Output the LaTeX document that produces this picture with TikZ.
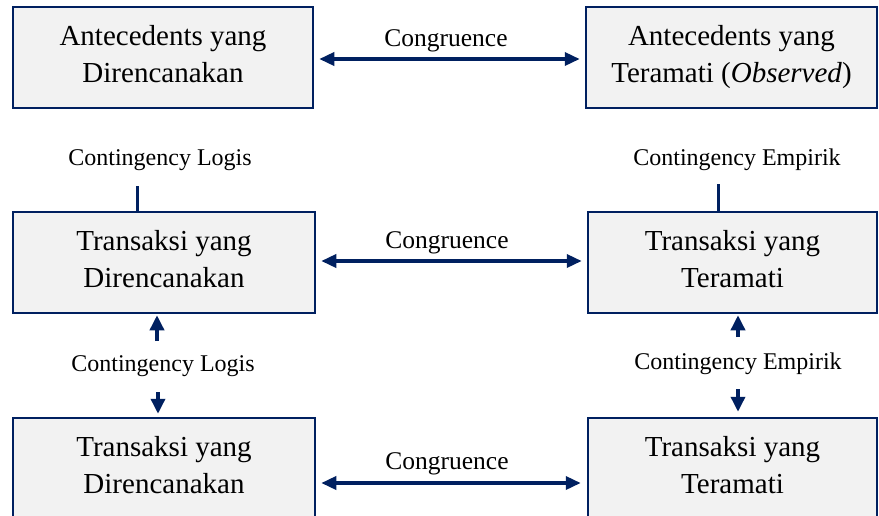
\documentclass[tikz,border=0pt]{standalone}
\usepackage{fontspec}
\setmainfont{Liberation Serif}
\usetikzlibrary{arrows.meta}
\definecolor{navy}{HTML}{002060}
\definecolor{boxfill}{HTML}{F2F2F2}
\tikzset{
  box/.style={draw=navy, line width=2.5pt, fill=boxfill, inner sep=0pt,
    minimum height=101pt, align=center, text height=59pt, text depth=10pt,
    font=\fontsize{29}{37}\selectfont},
  arr/.style={draw=navy, line width=3.5pt, -{Triangle[length=15pt,width=14pt]}},
  dbl/.style={draw=navy, line width=3.5pt, {Triangle[length=15pt,width=13pt]}-{Triangle[length=15pt,width=13pt]}},
  stub/.style={draw=navy, line width=3pt},
  cong/.style={font=\fontsize{25.5}{30}\selectfont, inner sep=0pt},
  cont/.style={font=\fontsize{24}{28}\selectfont, inner sep=0pt},
}
\begin{document}
\begin{tikzpicture}[x=1pt,y=-1pt]
\useasboundingbox (0,0) rectangle (879,515);
\clip (0,0) rectangle (879,515);
\fill[white] (0,0) rectangle (879,515);

% boxes
\node[box, minimum width=300pt] (b1) at (163,57.5) {Antecedents yang\\Direncanakan};
\node[box, minimum width=291pt] (b2) at (731.5,57.5) {Antecedents yang\\Teramati (\textit{Observed})};
\node[box, minimum width=302pt] (b3) at (164,262.5) {Transaksi yang\\Direncanakan};
\node[box, minimum width=289pt] (b4) at (732.5,262.5) {Transaksi yang\\Teramati};
\node[box, minimum width=302pt] (b5) at (164,468.5) {Transaksi yang\\Direncanakan};
\node[box, minimum width=289pt] (b6) at (732.5,468.5) {Transaksi yang\\Teramati};

% congruence arrows
\draw[dbl, shorten <=5pt, shorten >=5pt] ([yshift=-1.5pt]b1.east) -- ([yshift=-1.5pt]b2.west);
\draw[dbl, shorten <=5pt, shorten >=5pt] ([yshift=1.5pt]b3.east) -- ([yshift=1.5pt]b4.west);
\draw[dbl, shorten <=5pt, shorten >=6pt] ([yshift=-14.5pt]b5.east) -- ([yshift=-14.5pt]b6.west);

\node[cong] (c1) at (446,41) {Congruence};
\node[cong] (c2) at (447,243) {Congruence};
\node[cong] (c3) at (447,464) {Congruence};

% contingency labels
\node[cont] (l1) at (160,160) {Contingency Logis};
\node[cont] (e1) at (737,160) {Contingency Empirik};
\node[cont] (l2) at (163,366) {Contingency Logis};
\node[cont] (e2) at (738,364) {Contingency Empirik};

% stubs
\coordinate (s3) at (137,186);
\coordinate (s4) at (718,184);
\draw[stub] (s3) -- (s3 |- b3.north);
\draw[stub] (s4) -- (s4 |- b4.north);

% vertical arrows
\coordinate (u3) at (157,341);
\coordinate (u4) at (738,337);
\coordinate (d5) at (158,392);
\coordinate (d6) at (738,389);
\draw[arr, shorten >=1pt] (u3) -- (u3 |- b3.south);
\draw[arr, shorten >=1pt] (u4) -- (u4 |- b4.south);
\draw[arr, shorten >=3pt] (d5) -- (d5 |- b5.north);
\draw[arr, shorten >=5pt] (d6) -- (d6 |- b6.north);
\end{tikzpicture}
\end{document}
